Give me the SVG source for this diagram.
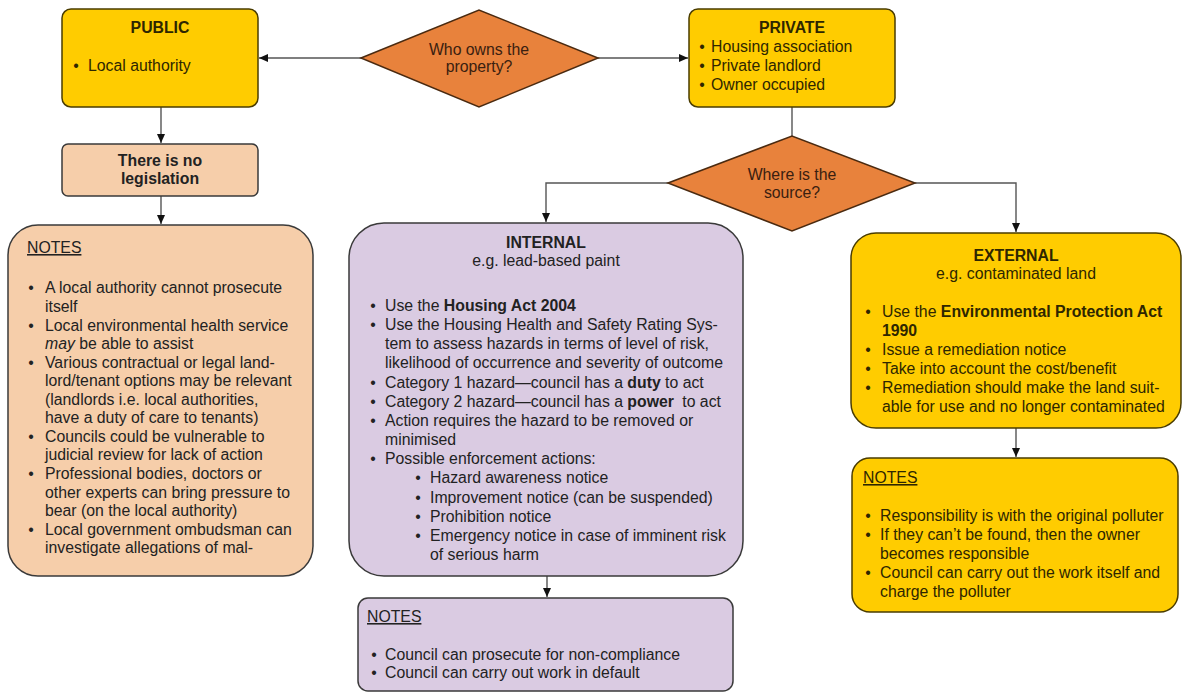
<svg xmlns="http://www.w3.org/2000/svg" width="1183" height="693" viewBox="0 0 1183 693">
<style>
text{font-family:"Liberation Sans",Arial,sans-serif;font-size:15.8px;fill:#222}
.y text{fill:#2e2600}
.b{font-weight:bold}
.c{text-anchor:middle}
.u{text-decoration:underline}
.box{stroke:#3a3a3a;stroke-width:1.5}
.yel{fill:#FFCC00;stroke:#4a3c00}
.peach{fill:#F6CEAA}
.lav{fill:#DACBE2}
.dia{fill:#E8823C;stroke:#4a2a10;stroke-width:1.5}
.dt{fill:#3a2010}
.con{fill:none;stroke:#555;stroke-width:1.4}
</style>
<defs>
<marker id="ah" markerWidth="10" markerHeight="10" refX="9" refY="5" orient="auto" markerUnits="userSpaceOnUse">
<path d="M0,1 L9,5 L0,9 Z" fill="#111"/>
</marker>
</defs>
<g id="connectors">
<line class="con" x1="361" y1="58" x2="259" y2="58" marker-end="url(#ah)"/>
<line class="con" x1="598" y1="58" x2="688" y2="58" marker-end="url(#ah)"/>
<line class="con" x1="161" y1="107" x2="161" y2="143" marker-end="url(#ah)"/>
<line class="con" x1="161" y1="196" x2="161" y2="224" marker-end="url(#ah)"/>
<line class="con" x1="792" y1="107" x2="792" y2="136"/>
<polyline class="con" points="668,183 546,183 546,222" marker-end="url(#ah)"/>
<polyline class="con" points="915,183 1016,183 1016,232" marker-end="url(#ah)"/>
<line class="con" x1="547" y1="576" x2="547" y2="597" marker-end="url(#ah)"/>
<line class="con" x1="1016" y1="428" x2="1016" y2="457" marker-end="url(#ah)"/>
</g>
<g id="public" class="y">
<rect class="box yel" x="62" y="9" width="196" height="98" rx="9"/>
<text class="b c" x="160" y="33">PUBLIC</text>
<text x="76" y="71" class="c">•</text>
<text x="88" y="71">Local authority</text>
</g>
<g id="owner-question">
<polygon class="dia" points="361,58 479,10 598,58 479,107"/>
<text class="c dt" x="479" y="55">Who owns the</text>
<text class="c dt" x="479" y="72">property?</text>
</g>
<g id="private" class="y">
<rect class="box yel" x="689" y="9" width="206" height="98" rx="9"/>
<text class="b c" x="792" y="33">PRIVATE</text>
<text x="702" y="52" class="c">•</text><text x="711" y="52">Housing association</text>
<text x="702" y="71" class="c">•</text><text x="711" y="71">Private landlord</text>
<text x="702" y="90" class="c">•</text><text x="711" y="90">Owner occupied</text>
</g>
<g id="legislation">
<rect class="box peach" x="62" y="144" width="196" height="52" rx="6"/>
<text class="b c" x="160" y="166">There is no</text>
<text class="b c" x="160" y="184">legislation</text>
</g>
<g id="source-question">
<polygon class="dia" points="668,183 792,136 915,183 792,231"/>
<text class="c dt" x="792" y="180">Where is the</text>
<text class="c dt" x="792" y="198">source?</text>
</g>
<g id="public-notes">
<rect class="box peach" x="8" y="225" width="305" height="351" rx="30"/>
<text class="u" x="27" y="253">NOTES</text>
<text class="c" x="31" y="293">•</text><text x="45" y="293">A local authority cannot prosecute</text>
<text x="45" y="312">itself</text>
<text class="c" x="31" y="331">•</text><text x="45" y="331">Local environmental health service</text>
<text x="45" y="349"><tspan font-style="italic">may</tspan> be able to assist</text>
<text class="c" x="31" y="368">•</text><text x="45" y="368">Various contractual or legal land-</text>
<text x="45" y="386">lord/tenant options may be relevant</text>
<text x="45" y="405">(landlords i.e. local authorities,</text>
<text x="45" y="423">have a duty of care to tenants)</text>
<text class="c" x="31" y="442">•</text><text x="45" y="442">Councils could be vulnerable to</text>
<text x="45" y="460">judicial review for lack of action</text>
<text class="c" x="31" y="479">•</text><text x="45" y="479">Professional bodies, doctors or</text>
<text x="45" y="498">other experts can bring pressure to</text>
<text x="45" y="516">bear (on the local authority)</text>
<text class="c" x="31" y="535">•</text><text x="45" y="535">Local government ombudsman can</text>
<text x="45" y="553">investigate allegations of mal-</text>
</g>
<g id="internal">
<rect class="box lav" x="349" y="223" width="394" height="353" rx="35"/>
<text class="b c" x="546" y="248">INTERNAL</text>
<text class="c" x="546" y="266">e.g. lead-based paint</text>
<text class="c" x="373" y="311">•</text><text x="385" y="311">Use the <tspan class="b">Housing Act 2004</tspan></text>
<text class="c" x="373" y="330">•</text><text x="385" y="330">Use the Housing Health and Safety Rating Sys-</text>
<text x="385" y="349">tem to assess hazards in terms of level of risk,</text>
<text x="385" y="368">likelihood of occurrence and severity of outcome</text>
<text class="c" x="373" y="388">•</text><text x="385" y="388">Category 1 hazard—council has a <tspan class="b">duty</tspan> to act</text>
<text class="c" x="373" y="407">•</text><text x="385" y="407">Category 2 hazard—council has a <tspan class="b">power</tspan><tspan dx="4"> to act</tspan></text>
<text class="c" x="373" y="426">•</text><text x="385" y="426">Action requires the hazard to be removed or</text>
<text x="385" y="445">minimised</text>
<text class="c" x="373" y="464">•</text><text x="385" y="464">Possible enforcement actions:</text>
<text class="c" x="418" y="483">•</text><text x="430" y="483">Hazard awareness notice</text>
<text class="c" x="418" y="503">•</text><text x="430" y="503">Improvement notice (can be suspended)</text>
<text class="c" x="418" y="522">•</text><text x="430" y="522">Prohibition notice</text>
<text class="c" x="418" y="541">•</text><text x="430" y="541">Emergency notice in case of imminent risk</text>
<text x="430" y="560">of serious harm</text>
</g>
<g id="internal-notes">
<rect class="box lav" x="358" y="598" width="375" height="93" rx="10"/>
<text class="u" x="367" y="622">NOTES</text>
<text class="c" x="374" y="660">•</text><text x="385" y="660">Council can prosecute for non-compliance</text>
<text class="c" x="374" y="678">•</text><text x="385" y="678">Council can carry out work in default</text>
</g>
<g id="external" class="y">
<rect class="box yel" x="851" y="233" width="330" height="195" rx="25"/>
<text class="b c" x="1016" y="261">EXTERNAL</text>
<text class="c" x="1016" y="279">e.g. contaminated land</text>
<text class="c" x="868" y="317">•</text><text x="882" y="317">Use the <tspan class="b">Environmental Protection Act</tspan></text>
<text class="b" x="882" y="336">1990</text>
<text class="c" x="868" y="355">•</text><text x="882" y="355">Issue a remediation notice</text>
<text class="c" x="868" y="374">•</text><text x="882" y="374">Take into account the cost/benefit</text>
<text class="c" x="868" y="393">•</text><text x="882" y="393">Remediation should make the land suit-</text>
<text x="882" y="412">able for use and no longer contaminated</text>
</g>
<g id="external-notes" class="y">
<rect class="box yel" x="852" y="458" width="326" height="154" rx="18"/>
<text class="u" x="863" y="483">NOTES</text>
<text class="c" x="868" y="521">•</text><text x="880" y="521">Responsibility is with the original polluter</text>
<text class="c" x="868" y="540">•</text><text x="880" y="540">If they can’t be found, then the owner</text>
<text x="880" y="559">becomes responsible</text>
<text class="c" x="868" y="578">•</text><text x="880" y="578">Council can carry out the work itself and</text>
<text x="880" y="597">charge the polluter</text>
</g>
</svg>
